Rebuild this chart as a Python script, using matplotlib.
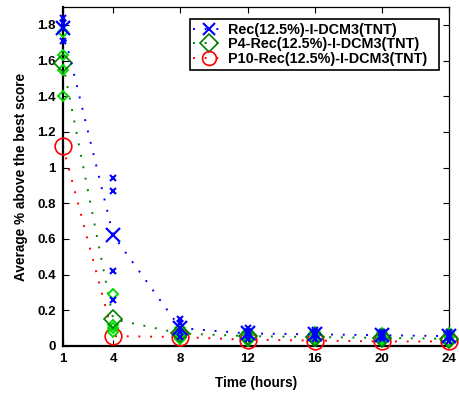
import matplotlib
matplotlib.use("Agg")
import matplotlib.pyplot as plt
from matplotlib.lines import Line2D

plt.rcParams["font.family"] = ["Liberation Sans", "DejaVu Sans"]
plt.rcParams["font.weight"] = "bold"

times = [1, 4, 8, 12, 16, 20, 24]

# mean curves (big markers + dotted line)
rec_mean = [1.78, 0.62, 0.10, 0.07, 0.065, 0.06, 0.055]
p4_mean = [1.585, 0.15, 0.07, 0.055, 0.05, 0.045, 0.04]
p10_mean = [1.12, 0.055, 0.05, 0.035, 0.03, 0.025, 0.025]

# individual runs (small markers), one list per time
rec_runs = [
    [1.84, 1.81, 1.78, 1.71],
    [0.94, 0.87, 0.42, 0.26],
    [0.15, 0.13, 0.08, 0.05],
    [0.10, 0.08, 0.06, 0.04],
    [0.09, 0.07, 0.06, 0.04],
    [0.08, 0.07, 0.05, 0.04],
    [0.08, 0.06, 0.05, 0.03],
]
p4_runs = [
    [1.76, 1.63, 1.55, 1.40],
    [0.29, 0.12, 0.10, 0.08],
    [0.10, 0.08, 0.06, 0.04],
    [0.08, 0.06, 0.04, 0.03],
    [0.08, 0.06, 0.04, 0.03],
    [0.07, 0.05, 0.04, 0.03],
    [0.07, 0.05, 0.03, 0.02],
]

labels = ["Rec(12.5%)-I-DCM3(TNT)", "P4-Rec(12.5%)-I-DCM3(TNT)",
          "P10-Rec(12.5%)-I-DCM3(TNT)"]

BLUE = "#0000ff"
GREEN = "#008000"
LIME = "#00dd00"
RED = "#ff0000"
DOT = (0, (1, 5))

fig = plt.figure(figsize=(4.59, 3.94), dpi=100)
ax = fig.add_axes([0.137, 0.122, 0.841, 0.86])

# P10 (drawn first, underneath)
ax.plot(times, p10_mean, ls=DOT, lw=1.4, color=RED, zorder=2)
ax.plot(times, p10_mean, ls="none", marker="o", ms=12, mfc="none",
        mec=RED, mew=1.2, zorder=3, clip_on=False)

# P4
ax.plot(times, p4_mean, ls=DOT, lw=1.4, color=GREEN, zorder=4)
for t, runs in zip(times, p4_runs):
    ax.plot([t] * len(runs), runs, ls="none", marker="D", ms=5.5,
            mfc="none", mec=LIME, mew=1.4, zorder=5, clip_on=False)
ax.plot(times, p4_mean, ls="none", marker="D", ms=9, mfc="none",
        mec=GREEN, mew=1.2, zorder=6, clip_on=False)

# Rec
ax.plot(times, rec_mean, ls=DOT, lw=1.4, color=BLUE, zorder=7)
for t, runs in zip(times, rec_runs):
    ax.plot([t] * len(runs), runs, ls="none", marker="x", ms=5,
            mec=BLUE, mew=1.5, zorder=8, clip_on=False)
ax.plot(times, rec_mean, ls="none", marker="x", ms=10, mec=BLUE,
        mew=1.6, zorder=9, clip_on=False)

ax.set_xlim(1, 24)
ax.set_ylim(0, 1.9)
ax.set_xticks(times)
ax.set_yticks([0, 0.2, 0.4, 0.6, 0.8, 1, 1.2, 1.4, 1.6, 1.8])
ax.set_yticklabels(["0", "0.2", "0.4", "0.6", "0.8", "1", "1.2", "1.4",
                    "1.6", "1.8"])
ax.tick_params(direction="in", top=True, right=True, length=4,
               labelsize=9.5, pad=5)
for lab in ax.get_xticklabels() + ax.get_yticklabels():
    lab.set_fontweight("bold")
for side in ["left", "bottom"]:
    ax.spines[side].set_linewidth(1.6)
for side in ["top", "right"]:
    ax.spines[side].set_linewidth(0.9)

ax.set_xlabel("Time (hours)", fontsize=9.8, fontweight="bold", labelpad=8)
ax.set_ylabel("Average % above the best score", fontsize=9.8,
              fontweight="bold", labelpad=7)

handles = [
    Line2D([], [], ls=DOT, lw=1.4, color=BLUE, marker="x", ms=8,
           mec=BLUE, mew=1.5),
    Line2D([], [], ls=DOT, lw=1.4, color=GREEN, marker="D", ms=9,
           mfc="none", mec=GREEN, mew=1.2),
    Line2D([], [], ls=DOT, lw=1.4, color=RED, marker="o", ms=10,
           mfc="none", mec=RED, mew=1.2),
]
leg = ax.legend(handles, labels, loc="upper left",
                bbox_to_anchor=(0.329, 0.0, 0.645, 0.965), mode="expand",
                fontsize=10.4, frameon=True,
                fancybox=False, framealpha=1, edgecolor="black",
                handlelength=2.1, handletextpad=0.3, labelspacing=0.05,
                borderpad=0.25, borderaxespad=0.0)
leg.get_frame().set_linewidth(1.2)
for txt in leg.get_texts():
    txt.set_fontweight("bold")

fig.savefig("out.png", dpi=100)
